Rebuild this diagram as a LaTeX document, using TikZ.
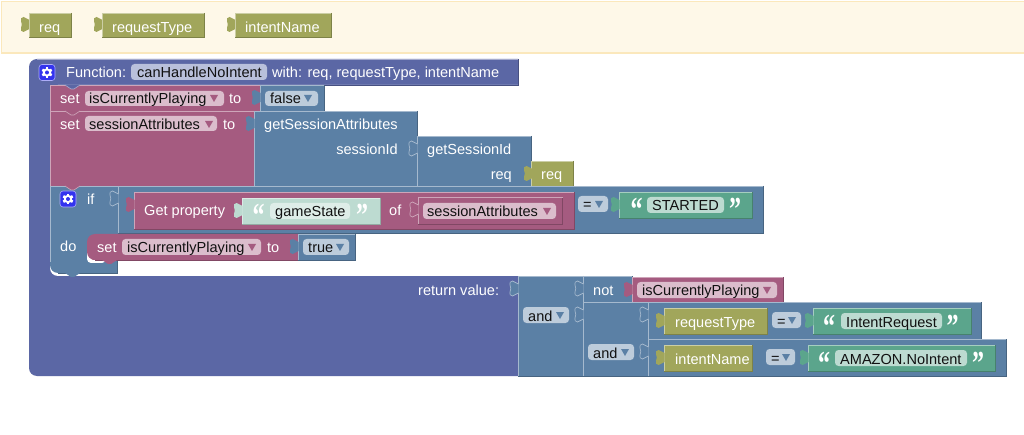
\documentclass[tikz,border=0pt]{standalone}
\usepackage{graphicx}
\usepackage{fontspec}
\setmainfont{Liberation Sans}
\newfontfamily\qfont{Liberation Serif}
\definecolor{cblue}{HTML}{5B80A5}
\definecolor{cpink}{HTML}{A55B80}
\definecolor{colive}{HTML}{A1A65B}
\definecolor{cgreen}{HTML}{5BA58C}
\definecolor{cpurple}{HTML}{5B67A5}
\definecolor{fblue}{HTML}{BDCCDB}
\definecolor{fpink}{HTML}{DBBDCC}
\definecolor{fgreen}{HTML}{BDDBD1}
\definecolor{fpurple}{HTML}{B9C0DB}
\definecolor{flybg}{HTML}{FEF8E8}
\definecolor{flyln}{HTML}{FBE8BC}
\definecolor{gearblue}{HTML}{3333EE}
\definecolor{ftext}{HTML}{111111}
\tikzset{
  wtext/.style={anchor=base west,inner sep=0pt,yshift=-1pt,text=white,font=\fontsize{14.55}{16}\selectfont},
  dtext/.style={anchor=base west,inner sep=0pt,yshift=-1pt,text=ftext,font=\fontsize{14.55}{16}\selectfont},
  rtext/.style={anchor=base east,inner sep=0pt,yshift=-1pt,text=white,font=\fontsize{14.55}{16}\selectfont},
  qmark/.style={anchor=base,inner sep=0pt,text=white,font=\qfont\bfseries\fontsize{24}{24}\selectfont},
}
\newcommand\qo{\scalebox{1}[1.4]{“}}
\newcommand\qc{\scalebox{1}[1.4]{”}}
\newcommand\blk[5]{%
  \fill[#5] (#1,#2) rectangle (#3,#4);
  \draw[#5!78!black,line width=.8pt] (#3,#2) -- (#3,#4) -- (#1,#4);
  \draw[#5!55!white,line width=.6pt] (#1+.4,#4) -- (#1+.4,#2+.4) -- (#3,#2+.4);
}
\newcommand\tabpath[2]{(#1+.5,#2+3) .. controls (#1-2,#2+3) and (#1-3,#2) .. (#1-5.5,#2)
    .. controls (#1-8,#2) and (#1-8.5,#2+2) .. (#1-8,#2+4)
    .. controls (#1-7.7,#2+5.5) and (#1-7.2,#2+6.5) .. (#1-7.2,#2+7.5)
    .. controls (#1-7.2,#2+8.5) and (#1-7.7,#2+9.5) .. (#1-8,#2+11)
    .. controls (#1-8.5,#2+13) and (#1-8,#2+15) .. (#1-5.5,#2+15)
    .. controls (#1-3,#2+15) and (#1-2,#2+12) .. (#1+.5,#2+12)}
\newcommand\tabb[3]{\fill[#3] \tabpath{#1}{#2} -- cycle;}
\newcommand\tabh[3]{%
  \fill[#3] \tabpath{#1}{#2} -- cycle;
  \draw[#3!55!white,line width=.7pt] \tabpath{#1}{#2};
}
\newcommand\notch[3]{%
  \fill[#3] (#1,#2) -- (#1+6,#2+4) -- (#1+9,#2+4) -- (#1+15,#2) -- cycle;
  \draw[#3!55!white,line width=.6pt] (#1,#2) -- (#1+6,#2+4) -- (#1+9,#2+4) -- (#1+15,#2);
}
\newcommand\fld[5]{\fill[#5,rounded corners=3.5pt] (#1,#2) rectangle (#3,#4);}
\newcommand\arr[3]{\fill[#3] (#1-4,#2-3) -- (#1+4,#2-3) -- (#1,#2+4) -- cycle;}
\newcommand\gear[2]{%
  \fill[gearblue,rounded corners=3pt,draw=white!60!gearblue,line width=.6pt] (#1-8,#2-8) rectangle (#1+8,#2+8);
  \foreach \a in {0,60,...,300}{\fill[white,rotate around={\a:(#1,#2)}] (#1-1.3,#2-5.4) rectangle (#1+1.3,#2-3);}
  \fill[white] (#1,#2) circle[radius=4.2];
  \fill[gearblue] (#1,#2) circle[radius=2];
}
\begin{document}
\begin{tikzpicture}[x=1pt,y=-1pt]
\useasboundingbox (0,0) rectangle (1024,435);
\fill[white] (0,0) rectangle (1024,435);
% flyout
\fill[flybg] (2,2) rectangle (1024,53);
\draw[flyln,line width=1.2pt] (1024,1.5) -- (1.5,1.5) -- (1.5,53) -- (1024,53);
\tabb{29}{17}{colive}\blk{29}{13}{71}{37.5}{colive}
\node[wtext] (fa) at (39,31.5) {req};
\tabb{102}{17}{colive}\blk{102}{13}{204}{37.5}{colive}
\node[wtext] (fb) at (112,31.5) {requestType};
\tabb{235}{17}{colive}\blk{235}{13}{331}{37.5}{colive}
\node[wtext] (fc) at (245,31.5) {intentName};
% function block
\fill[cpurple,rounded corners=8pt] (100,59) -- (29,59) -- (29,376) -- (100,376) [sharp corners] -- (518,376) -- (518,59) -- cycle;
\fill[white,rounded corners=8pt] (100,85) -- (50,85) -- (50,276) -- (100,276) [sharp corners] -- (519,276) -- (519,85) -- cycle;
\draw[cpurple!78!black,line width=.8pt] (518,59) -- (518,85) -- (324,85);
\draw[cpurple!55!white,line width=.6pt] (37,59.4) -- (518,59.4);
\gear{47}{72.5}
\node[wtext] (t1) at (66,77) {Function:};
\fld{131}{64}{267}{80}{fpurple}
\node[dtext] (t2) at (137,77) {canHandleNoIntent};
\node[wtext] (t3) at (272,77) {with: req, requestType, intentName};
% set isCurrentlyPlaying
\blk{50}{85}{260}{111}{cpink}
\notch{65}{85}{cpurple}
\node[wtext] (s1) at (60,103) {set};
\fld{85}{91}{224}{106}{fpink}
\node[dtext] (s2) at (89,103) {isCurrentlyPlaying};
\arr{214}{98}{cpink}
\node[wtext] (s3) at (229,103) {to};
\blk{260}{85}{324}{111}{cblue}
\tabb{260}{90}{cblue}
\fld{265}{91}{318}{106}{fblue}
\node[dtext] (s4) at (270,103) {false};
\arr{308}{98}{cblue}
% set sessionAttributes
\blk{50}{111}{254}{186}{cpink}
\notch{65}{111}{cpink}
\node[wtext] (s5) at (60,129) {set};
\fld{85}{116}{217}{131}{fpink}
\node[dtext] (s6) at (89,129) {sessionAttributes};
\arr{209}{124}{cpink}
\node[wtext] (s7) at (223,129) {to};
\blk{254}{111}{417}{186}{cblue}
\tabb{254}{116}{cblue}
\node[wtext] (g1) at (264,129) {getSessionAttributes};
\node[rtext] (g2) at (398,154) {sessionId};
\blk{417}{136}{531}{186}{cblue}
\tabh{417}{141}{cblue}
\node[wtext] (g3) at (427,154) {getSessionId};
\node[rtext] (g4) at (512,179) {req};
\blk{531}{161}{573}{186}{colive}
\tabb{532}{166}{colive}
\node[wtext] (g5) at (541,179) {req};
% if block
\fill[cblue,rounded corners=8pt] (100,230) -- (50,230) -- (50,273) -- (100,273) [sharp corners] -- (117,273) -- (117,230) -- cycle;
\fill[cblue] (50,186) rectangle (118,240);
\draw[cblue!55!white,line width=.6pt] (50.4,262) -- (50.4,186.4) -- (118,186.4);
\draw[cblue!78!black,line width=.8pt] (117,260) -- (117,273) -- (58,273);
\notch{65}{186}{cpink}
\fill[cblue] (65,273) -- (71,277) -- (74,277) -- (80,273) -- cycle;
\gear{68}{199}
\node[wtext] (i1) at (87,204) {if};
\node[wtext] (i2) at (60,251) {do};
\blk{118}{186}{763}{233.5}{cblue}
\tabh{118}{191}{cblue}
\blk{134}{192}{574}{229.5}{cpink}
\tabb{134}{197}{cpink}
\node[wtext] (i3) at (144,215) {Get property};
\blk{242}{198}{380}{224}{fgreen}
\tabb{242}{203}{fgreen}
\node[qmark] (q1) at (258.5,227) {\qo};
\fld{270}{203}{350}{219}{fgreen!50!white}
\node[dtext] (i4) at (275,216) {gameState};
\node[qmark] (q2) at (362,227) {\qc};
\node[wtext] (i5) at (389,215) {of};
\blk{418}{197}{562.5}{224}{cpink}
\tabh{418}{202}{cpink}
\fld{423}{203}{556}{219}{fpink}
\node[dtext] (i6) at (427,216) {sessionAttributes};
\arr{547}{211}{cpink}
\fld{578}{196}{608}{212}{fblue}
\node[dtext] (i7) at (583,209) {=};
\arr{599}{204}{cblue}
\blk{619}{192}{752}{218}{cgreen}
\tabb{619}{197}{cgreen}
\node[qmark] (q3) at (636.5,221) {\qo};
\fld{647}{197}{724}{213}{fgreen}
\node[dtext] (i8) at (652,210) {STARTED};
\node[qmark] (q4) at (735,221) {\qc};
% set in do
\fill[white,rounded corners=4pt] (87,250) rectangle (106,263);
\fill[cpink,rounded corners=8pt] (100,234) -- (87,234) -- (87,260) -- (100,260) [sharp corners] -- (298,260) -- (298,234) -- cycle;
\draw[cpink!78!black,line width=.8pt] (95,260) -- (298,260);
\fill[cpink] (102,260) -- (108,264) -- (111,264) -- (117,260) -- cycle;
\node[wtext] (d1) at (97,252) {set};
\fld{122}{239}{261}{255}{fpink}
\node[dtext] (d2) at (127,252) {isCurrentlyPlaying};
\arr{252}{247}{cpink}
\node[wtext] (d3) at (267,252) {to};
\blk{298}{234}{355}{260}{cblue}
\tabb{298}{239}{cblue}
\fld{303}{239}{349}{255}{fblue}
\node[dtext] (d4) at (308,252) {true};
\arr{340}{247}{cblue}
% return
\node[wtext] (r1) at (418,294) {return value:};
\blk{518}{276}{583}{376}{cblue}
\tabh{518}{281}{cblue}
\fld{523}{307}{569}{323}{fblue}
\node[dtext] (r2) at (528,320) {and};
\arr{560}{315}{cblue}
\blk{583}{276}{632}{302}{cblue}
\tabh{583}{281}{cblue}
\node[wtext] (r3) at (593,294) {not};
\blk{632}{277}{783}{302}{cpink}
\tabb{632}{282}{cpink}
\fld{637}{282}{777}{298}{fpink}
\node[dtext] (r4) at (642,294) {isCurrentlyPlaying};
\arr{767}{290}{cpink}
\blk{583}{302}{648}{376}{cblue}
\tabh{583}{307}{cblue}
\fld{588}{344}{634}{360}{fblue}
\node[dtext] (r5) at (593,357) {and};
\arr{625}{352}{cblue}
% row 1
\blk{648}{302}{981}{339}{cblue}
\tabh{648}{307}{cblue}
\blk{664}{308}{767}{334}{colive}
\tabb{664}{313}{colive}
\node[wtext] (a1) at (675,326) {requestType};
\fld{772}{312}{801}{328}{fblue}
\node[dtext] (a2) at (777,325) {=};
\arr{792}{320}{cblue}
\blk{813}{308}{971}{334}{cgreen}
\tabb{813}{313}{cgreen}
\node[qmark] (q5) at (829,337) {\qo};
\fld{841}{313}{942}{329}{fgreen}
\node[dtext] (a3) at (846,326) {IntentRequest};
\node[qmark] (q6) at (952.5,337) {\qc};
% row 2
\blk{648}{339}{1006}{376}{cblue}
\tabh{648}{344}{cblue}
\blk{664}{345}{752}{371}{colive}
\tabb{664}{350}{colive}
\node[wtext] (b1) at (675,363) {intentName};
\fld{766}{349}{795}{365}{fblue}
\node[dtext] (b2) at (771,362) {=};
\arr{786}{357}{cblue}
\blk{808}{345}{995}{371}{cgreen}
\tabb{808}{350}{cgreen}
\node[qmark] (q7) at (824,374) {\qo};
\fld{835}{350}{967}{366}{fgreen}
\node[dtext] (b3) at (840,363) {AMAZON.NoIntent};
\node[qmark] (q8) at (978,374) {\qc};
\end{tikzpicture}
\end{document}
